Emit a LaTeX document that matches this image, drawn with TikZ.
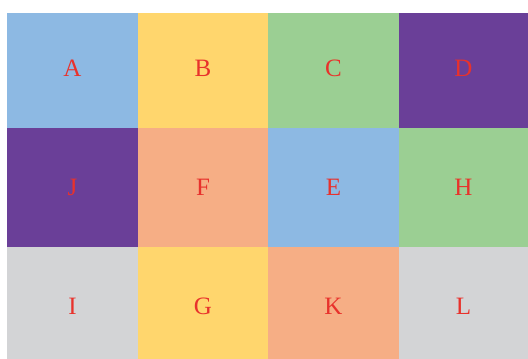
\documentclass[tikz,border=0pt]{standalone}
\usepackage{fontspec}
\setmainfont{Liberation Serif}
\usepackage{tikz}
\definecolor{cellblue}{HTML}{8DB9E3}
\definecolor{cellyellow}{HTML}{FFD66D}
\definecolor{cellgreen}{HTML}{9BCF93}
\definecolor{cellpurple}{HTML}{6A3F98}
\definecolor{cellsalmon}{HTML}{F6AE85}
\definecolor{cellgray}{HTML}{D3D4D6}
\definecolor{labelred}{HTML}{E8322C}

\begin{document}
\begin{tikzpicture}[x=1pt, y=-1pt, letter/.style={font=\fontsize{25}{25}\selectfont, text=labelred, inner sep=0pt, anchor=base}]
  \useasboundingbox (0,0) rectangle (528,359);
  % columns x, rows y, and the baseline of each row's letter
  \foreach \xa/\xb/\ya/\yb/\yl/\col/\lab in {
      7/138/13/128/76/cellblue/A, 138/268/13/128/76/cellyellow/B, 268/399/13/128/76/cellgreen/C, 399/528/13/128/76/cellpurple/D,
      7/138/128/247/195/cellpurple/J, 138/268/128/247/195/cellsalmon/F, 268/399/128/247/195/cellblue/E, 399/528/128/247/195/cellgreen/H,
      7/138/247/359/314/cellgray/I, 138/268/247/359/314/cellyellow/G, 268/399/247/359/314/cellsalmon/K, 399/528/247/359/314/cellgray/L}
  {
    \fill[\col] (\xa,\ya) rectangle (\xb,\yb);
    \node[letter] (cell\lab) at ({(\xa+\xb)/2},\yl) {\lab};
  }
\end{tikzpicture}
\end{document}
